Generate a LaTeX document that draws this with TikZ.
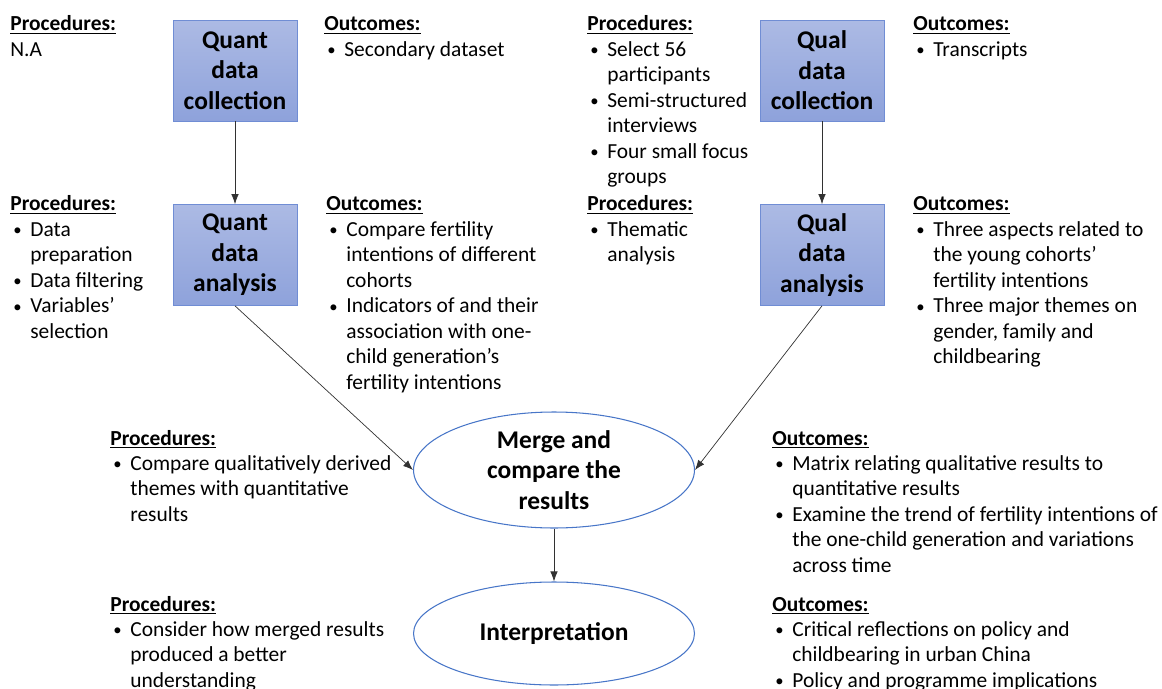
\documentclass[tikz,border=0pt]{standalone}
\usepackage{fontspec}
\setmainfont{Carlito}
\usetikzlibrary{arrows.meta,shapes.geometric}
\definecolor{boxtop}{RGB}{172,186,228}
\definecolor{boxbot}{RGB}{142,162,219}
\definecolor{boxline}{RGB}{112,141,212}
\definecolor{ovalline}{RGB}{72,118,200}
\definecolor{linkgray}{RGB}{50,50,50}
\newcommand{\hd}[1]{\underline{\textbf{#1}}}
\newcommand{\bl}{\hspace*{0.06cm}\makebox[0.34cm][l]{\raisebox{0.4pt}{\fontsize{9.5}{9.5}\selectfont\textbullet}}}
\newcommand{\ind}{\hspace*{0.40cm}}
\newcommand{\blk}[1]{\begin{tabular}[t]{@{}l@{}}#1\end{tabular}}
\tikzset{
  stage/.style={draw=boxline, top color=boxtop, bottom color=boxbot, minimum width=2.48cm,
    minimum height=2.02cm, align=center, inner sep=0pt, font=\fontsize{14.5}{17.4}\selectfont\bfseries},
  oval/.style={ellipse, draw=ovalline, semithick, fill=white, minimum width=5.62cm, inner sep=0pt,
    align=center, font=\fontsize{14.5}{17.4}\selectfont\bfseries},
  notes/.style={anchor=base west, inner sep=0pt, font=\fontsize{12.2}{14.5}\selectfont},
  link/.style={-{Latex[length=2mm,width=1.5mm]}, draw=linkgray, thin}
}

\begin{document}
\begin{tikzpicture}[x=0.02cm, y=-0.02cm]
  \useasboundingbox (0,0) rectangle (1162,689);

  \node[stage] (quantcol) at (235,70.5) {Quant\\data\\collection};
  \node[stage] (quantana) at (235,255) {Quant\\data\\analysis};
  \node[stage] (qualcol) at (822,70.5) {Qual\\data\\collection};
  \node[stage] (qualana) at (822,255) {Qual\\data\\analysis};
  \node[oval, minimum height=2.32cm] (merge) at (554,470) {Merge and\\compare the\\results};
  \node[oval, minimum height=2.06cm] (interp) at (554,633.5) {Interpretation};

  \draw[link] (quantcol) -- (quantana);
  \draw[link] (qualcol) -- (qualana);
  \draw[link] (quantana.south) -- (merge.west);
  \draw[link] (qualana.south) -- (merge.east);
  \draw[link] (merge) -- (interp);

  \node[notes] (quantcolproc) at (10,31) {\blk{\hd{Procedures:}\\N.A}};
  \node[notes] (quantcolout) at (324,31) {\blk{\hd{Outcomes:}\\\bl Secondary dataset}};
  \node[notes] (qualcolproc) at (587,31) {\blk{\hd{Procedures:}\\\bl Select 56\\\ind participants\\
    \bl Semi-structured\\\ind interviews\\\bl Four small focus\\\ind groups}};
  \node[notes] (qualcolout) at (913,31) {\blk{\hd{Outcomes:}\\\bl Transcripts}};

  \node[notes] (quantanaproc) at (10,211) {\blk{\hd{Procedures:}\\\bl Data\\\ind preparation\\
    \bl Data filtering\\\bl Variables’\\\ind selection}};
  \node[notes] (quantanaout) at (326,211) {\blk{\hd{Outcomes:}\\\bl Compare fertility\\
    \ind intentions of different\\\ind cohorts\\\bl Indicators of and their\\
    \ind association with one-\\\ind child generation’s\\\ind fertility intentions}};
  \node[notes] (qualanaproc) at (587,211) {\blk{\hd{Procedures:}\\\bl Thematic\\\ind analysis}};
  \node[notes] (qualanaout) at (913,211) {\blk{\hd{Outcomes:}\\\bl Three aspects related to\\
    \ind the young cohorts’\\\ind fertility intentions\\\bl Three major themes on\\
    \ind gender, family and\\\ind childbearing}};

  \node[notes] (mergeproc) at (110,445) {\blk{\hd{Procedures:}\\\bl Compare qualitatively derived\\
    \ind themes with quantitative\\\ind results}};
  \node[notes] (mergeout) at (772,445) {\blk{\hd{Outcomes:}\\\bl Matrix relating qualitative results to\\
    \ind quantitative results\\\bl Examine the trend of fertility intentions of\\
    \ind the one-child generation and variations\\\ind across time}};

  \node[notes] (interpproc) at (110,611) {\blk{\hd{Procedures:}\\\bl Consider how merged results\\
    \ind produced a better\\\ind understanding}};
  \node[notes] (interpout) at (772,611) {\blk{\hd{Outcomes:}\\\bl Critical reflections on policy and\\
    \ind childbearing in urban China\\\bl Policy and programme implications}};
\end{tikzpicture}
\end{document}
